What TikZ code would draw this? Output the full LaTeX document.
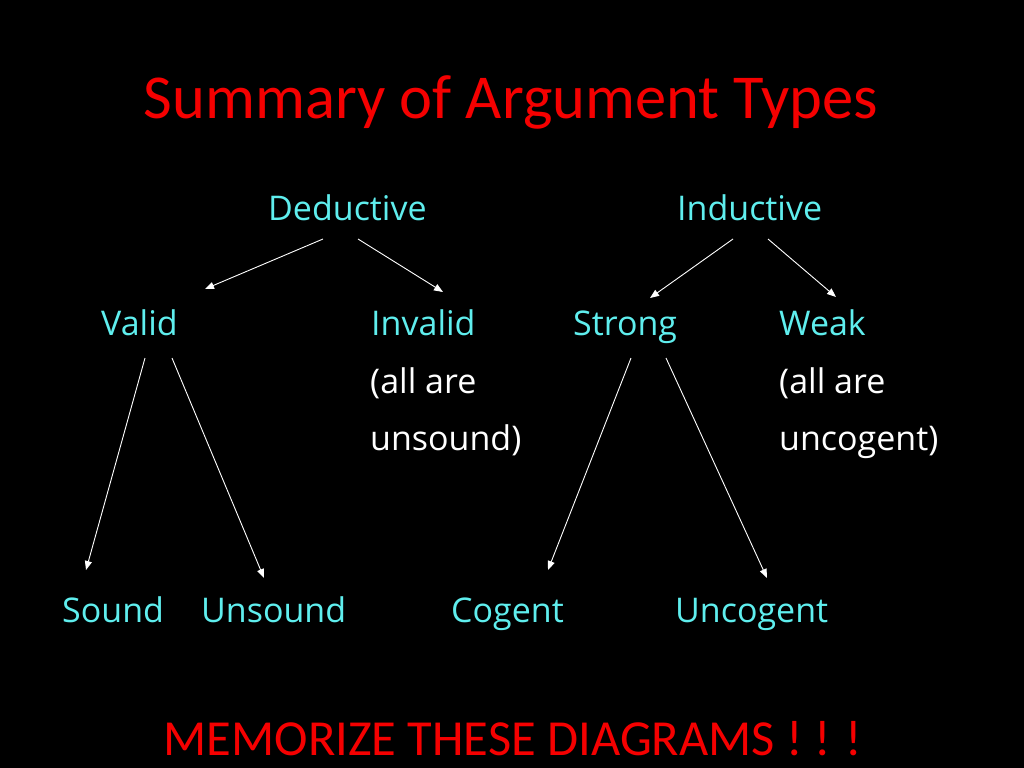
\documentclass[tikz,border=0pt]{standalone}
\usepackage{fontspec}
\setmainfont{Carlito}
\newfontfamily\lblfont{Open Sans}
\usetikzlibrary{arrows.meta}
\definecolor{slidecyan}{RGB}{95,238,238}
\definecolor{slidered}{RGB}{245,0,0}
\tikzset{
  lbl/.style={anchor=base west, inner sep=0pt, text=slidecyan, font=\lblfont\fontsize{34bp}{40bp}\selectfont},
  note/.style={lbl, text=white},
  ttl/.style={anchor=base, inner sep=0pt, text=slidered},
  arr/.style={draw=white, line width=0.9bp, -{Triangle[length=9bp,width=7bp]}}
}
\begin{document}
\begin{tikzpicture}[x=1bp,y=-1bp]
\fill[black] (0,0) rectangle (1024,768);
\useasboundingbox (0,0) rectangle (1024,768);
\node[ttl, font=\fontsize{62.5bp}{70bp}\selectfont] (title) at (511,118) {Summary of Argument Types};
\node[lbl] (ded) at (268,220) {Deductive};
\node[lbl] (ind) at (677,220) {Inductive};
\node[lbl] (val) at (101,335) {Valid};
\node[lbl] (inv) at (371,335) {Invalid};
\node[note] (inv2) at (370,393) {(all are};
\node[note] (inv3) at (370,450) {unsound)};
\node[lbl] (str) at (573,335) {Strong};
\node[lbl] (weak) at (779,335) {Weak};
\node[note] (weak2) at (779,393) {(all are};
\node[note] (weak3) at (779,450) {uncogent)};
\node[lbl] (snd) at (62,622) {Sound};
\node[lbl] (uns) at (201,622) {Unsound};
\node[lbl] (cog) at (451,622) {Cogent};
\node[lbl] (unc) at (675,622) {Uncogent};
\node[ttl, font=\fontsize{50.5bp}{56bp}\selectfont] (memo) at (513,755) {MEMORIZE THESE DIAGRAMS ! ! !};
% arrow endpoints
\coordinate (dedL) at (323,239);
\coordinate (dedR) at (358,239);
\coordinate (valT) at (205,289);
\coordinate (invT) at (443,292);
\coordinate (indL) at (733,239);
\coordinate (indR) at (768,239);
\coordinate (strT) at (650,298);
\coordinate (weakT) at (836,297);
\coordinate (valL) at (145,358);
\coordinate (valR) at (172,358);
\coordinate (sndT) at (86,570);
\coordinate (unsT) at (264,578);
\coordinate (strL) at (631,358);
\coordinate (strR) at (666,358);
\coordinate (cogT) at (548,570);
\coordinate (uncT) at (767,578);
\draw[arr] (dedL) -- (valT);
\draw[arr] (dedR) -- (invT);
\draw[arr] (indL) -- (strT);
\draw[arr] (indR) -- (weakT);
\draw[arr] (valL) -- (sndT);
\draw[arr] (valR) -- (unsT);
\draw[arr] (strL) -- (cogT);
\draw[arr] (strR) -- (uncT);
\end{tikzpicture}
\end{document}
